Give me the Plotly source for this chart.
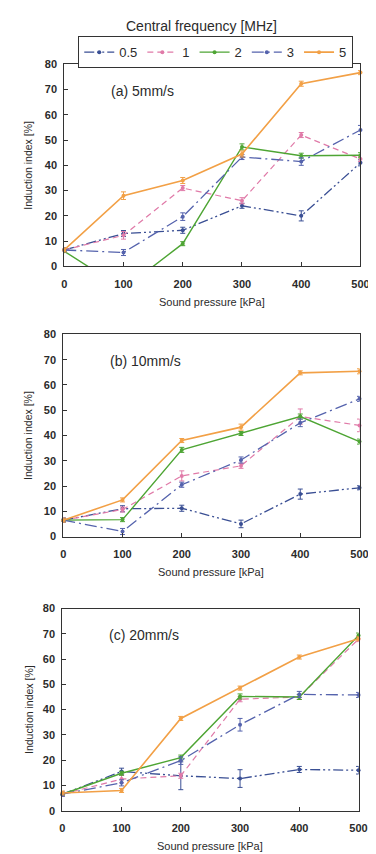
import plotly.graph_objects as go

# ---------------- data ----------------
pressure = [0, 100, 200, 300, 400, 500]
freq_names = ["0.5", "1", "2", "3", "5"]
xtick_vals = [0, 100, 200, 300, 400, 500]
ytick_vals = [0, 10, 20, 30, 40, 50, 60, 70, 80]
panel_labels = ["(a) 5mm/s", "(b) 10mm/s", "(c) 20mm/s"]

# (a) 5 mm/s
a_f05 = [6.5, 13.0, 14.3, 24.0, 20.0, 41.0]
a_f1 = [6.5, 12.3, 31.0, 26.0, 52.0, 42.5]
a_f2 = [6.0, -9.0, 9.0, 47.3, 43.8, 44.0]
a_f3 = [6.5, 5.5, 19.7, 43.3, 41.5, 54.0]
a_f5 = [6.5, 28.0, 34.0, 44.5, 72.3, 76.7]
a_e05 = [0.8, 1.2, 1.2, 1.0, 2.0, 1.2]
a_e1 = [0.8, 1.5, 1.0, 1.2, 1.0, 1.0]
a_e2 = [0.5, 0.8, 0.8, 1.2, 1.0, 1.0]
a_e3 = [0.8, 1.2, 1.5, 1.0, 1.5, 1.8]
a_e5 = [0.8, 1.5, 1.2, 1.2, 1.0, 0.8]

# (b) 10 mm/s
b_f05 = [6.5, 11.0, 11.2, 5.0, 16.8, 19.3]
b_f1 = [6.5, 10.7, 24.0, 28.0, 47.5, 44.0]
b_f2 = [6.5, 6.7, 34.3, 40.8, 47.5, 37.6]
b_f3 = [6.5, 2.0, 20.5, 30.3, 45.0, 54.5]
b_f5 = [6.5, 14.5, 38.0, 43.3, 64.8, 65.4]
b_e05 = [0.8, 1.2, 1.2, 1.5, 2.0, 0.8]
b_e1 = [0.8, 1.0, 2.0, 1.0, 3.0, 2.5]
b_e2 = [0.5, 0.8, 1.0, 0.8, 1.0, 1.0]
b_e3 = [0.8, 1.2, 1.0, 1.2, 1.5, 1.0]
b_e5 = [0.8, 0.8, 0.8, 1.2, 0.8, 1.0]

# (c) 20 mm/s
c_f05 = [6.5, 15.5, 13.8, 12.7, 16.3, 16.0]
c_f1 = [6.5, 12.5, 13.8, 44.1, 45.0, 67.9]
c_f2 = [6.5, 14.8, 21.0, 45.2, 45.0, 69.3]
c_f3 = [6.5, 11.0, 19.8, 34.0, 46.0, 45.8]
c_f5 = [7.0, 8.0, 36.5, 48.5, 60.8, 68.0]
c_e05 = [0.8, 1.3, 5.5, 3.5, 1.2, 1.5]
c_e1 = [0.8, 1.5, 1.0, 1.0, 1.0, 1.0]
c_e2 = [0.5, 0.8, 1.0, 1.0, 1.0, 1.0]
c_e3 = [0.8, 1.2, 1.5, 2.5, 1.2, 1.0]
c_e5 = [0.8, 0.8, 0.8, 0.8, 0.8, 0.8]

panels = [
    ([a_f05, a_f1, a_f2, a_f3, a_f5], [a_e05, a_e1, a_e2, a_e3, a_e5]),
    ([b_f05, b_f1, b_f2, b_f3, b_f5], [b_e05, b_e1, b_e2, b_e3, b_e5]),
    ([c_f05, c_f1, c_f2, c_f3, c_f5], [c_e05, c_e1, c_e2, c_e3, c_e5]),
]

# ---------------- styles ----------------
W, H = 376, 854
colors = ["#3a4f94", "#e07aa8", "#4ea534", "#5563ad", "#f2a046"]
dashes = ["10px,3px,2px,3px,2px,3px", "6px,4px", "solid", "12px,4px,2px,4px", "solid"]
widths = [1.3, 1.2, 1.4, 1.3, 1.6]
FONT = "Liberation Sans, Arial, sans-serif"
TXT = "#2b2b2b"

# plot areas in pixels: (left, right, top, bottom)
areas = [(55, 361, 51, 256), (54, 360, 325, 530), (53, 359, 603, 808)]

fig = go.Figure()

for p, (series, errs) in enumerate(panels):
    sfx = "" if p == 0 else str(p + 1)
    for i, name in enumerate(freq_names):
        clip = (p == 0 and i == 2)
        fig.add_trace(go.Scatter(
            x=pressure, y=series[i],
            mode="lines+markers",
            name=name,
            legendgroup=name,
            showlegend=(p == 0),
            line=dict(color=colors[i], width=widths[i], dash=dashes[i]),
            marker=dict(color=colors[i], size=4),
            error_y=dict(type="data", array=errs[i], color=colors[i],
                         thickness=1, width=2.5),
            cliponaxis=clip,
            xaxis="x" + sfx, yaxis="y" + sfx,
        ))

layout = dict(
    width=W, height=H,
    margin=dict(l=0, r=0, t=0, b=0),
    paper_bgcolor="white", plot_bgcolor="white",
    font=dict(family=FONT, color=TXT, size=11),
    showlegend=True,
    legend=dict(
        orientation="h",
        x=211.5 / W, xanchor="center",
        y=1 - 22.5 / H, yanchor="top",
        bordercolor="#333", borderwidth=1,
        bgcolor="white",
        font=dict(size=13, family=FONT, color=TXT),
        itemwidth=30,
        traceorder="normal",
    ),
)

annotations = [dict(
    text="Central frequency [MHz]", x=197 / W, y=1 - 12 / H,
    xref="paper", yref="paper", showarrow=False,
    font=dict(size=14, family=FONT, color=TXT), xanchor="center", yanchor="middle",
)]

for p, (l, r, t, b) in enumerate(areas):
    sfx = "" if p == 0 else str(p + 1)
    layout["xaxis" + sfx] = dict(
        domain=[l / W, r / W], anchor="y" + sfx,
        range=[0, 500], tickvals=xtick_vals,
        ticks="inside", ticklen=4, tickcolor="#333",
        showline=True, linecolor="#333", linewidth=1, mirror=True,
        showgrid=False, zeroline=False,
        tickfont=dict(size=11, family=FONT, color=TXT, weight="bold"),
        ticklabelstandoff=7,
    )
    layout["yaxis" + sfx] = dict(
        domain=[1 - b / H, 1 - t / H], anchor="x" + sfx,
        range=[0, 80], tickvals=ytick_vals,
        ticks="inside", ticklen=4, tickcolor="#333",
        showline=True, linecolor="#333", linewidth=1, mirror=True,
        showgrid=False, zeroline=False,
        tickfont=dict(size=11, family=FONT, color=TXT, weight="bold"),
        ticklabelstandoff=4,
    )
    # panel label
    annotations.append(dict(
        text=panel_labels[p], x=(l + 46) / W, y=1 - (t + 27) / H,
        xref="paper", yref="paper", showarrow=False,
        xanchor="left", yanchor="middle",
        font=dict(size=14, family=FONT, color=TXT),
    ))
    # y title
    annotations.append(dict(
        text="Induction index [%]", x=18 / W, y=1 - (t + b) / 2 / H,
        xref="paper", yref="paper", showarrow=False, textangle=-90,
        xanchor="center", yanchor="middle",
        font=dict(size=10.5, family=FONT, color=TXT),
    ))
    # x title
    annotations.append(dict(
        text="Sound pressure [kPa]", x=(l + r) / 2 / W, y=1 - (b + 36) / H,
        xref="paper", yref="paper", showarrow=False,
        xanchor="center", yanchor="middle",
        font=dict(size=11, family=FONT, color=TXT),
    ))

layout["annotations"] = annotations
fig.update_layout(**layout)
fig.write_html("out.html")
